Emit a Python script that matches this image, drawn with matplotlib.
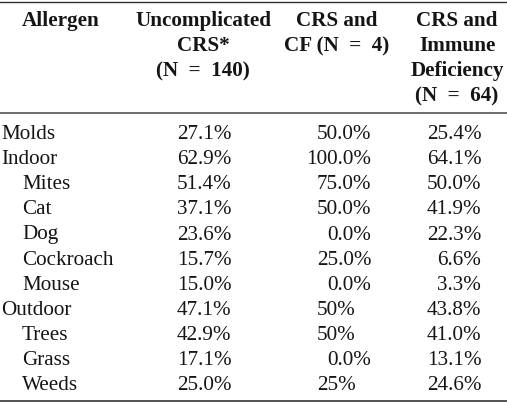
import matplotlib
matplotlib.use("Agg")
import matplotlib.pyplot as plt

allergens = ["Molds", "Indoor", "Mites", "Cat", "Dog", "Cockroach", "Mouse",
             "Outdoor", "Trees", "Grass", "Weeds"]
indented = [False, False, True, True, True, True, True, False, True, True, True]
uncomplicated = ["27.1%", "62.9%", "51.4%", "37.1%", "23.6%", "15.7%", "15.0%",
                 "47.1%", "42.9%", "17.1%", "25.0%"]
crs_cf = ["50.0%", "100.0%", "75.0%", "50.0%", "0.0%", "25.0%", "0.0%",
          "50%", "50%", "0.0%", "25%"]
crs_immune = ["25.4%", "64.1%", "50.0%", "41.9%", "22.3%", "6.6%", "3.3%",
              "43.8%", "41.0%", "13.1%", "24.6%"]
headers = [
    ["Allergen"],
    ["Uncomplicated", "CRS*", "(N = 140)"],
    ["CRS and", "CF (N = 4)"],
    ["CRS and", "Immune", "Deficiency", "(N = 64)"],
]

W, H = 507, 403
fig = plt.figure(figsize=(W / 100, H / 100), dpi=100)
ax = fig.add_axes([0, 0, 1, 1])
ax.set_xlim(0, W)
ax.set_ylim(H, 0)
ax.axis("off")

FONT = "Liberation Serif"
FS = 15.2
TC = "#151515"

# rules
ax.plot([0, W], [1.5, 1.5], color="#333333", lw=1.0)
ax.plot([0, W], [113.3, 113.3], color="#555555", lw=1.2)
ax.plot([0, W], [401, 401], color="#333333", lw=1.2)

# header
head_x = [61, 203, 337, 457]
for hx, lines in zip(head_x, headers):
    for i, line in enumerate(lines):
        ax.text(hx, 26 + 25 * i, line.replace(" = ", "  =  "), ha="center",
                va="baseline", fontsize=FS, fontweight="bold", family=FONT,
                color=TC)

# body
dec_x = [198, 338, 448]
row0, step = 139.3, 25.05
renderer = fig.canvas.get_renderer()
for r, name in enumerate(allergens):
    y = row0 + step * r
    ax.text(22 if indented[r] else 1, y, name, ha="left", va="baseline",
            fontsize=FS, family=FONT, color=TC)
    for cx, col in zip(dec_x, [uncomplicated, crs_cf, crs_immune]):
        v = col[r]
        ip = v.split(".")[0].rstrip("%")
        probe = ax.text(cx, y, ip, ha="right", va="baseline", fontsize=FS,
                        family=FONT, alpha=0)
        bb = probe.get_window_extent(renderer=renderer)
        x0 = ax.transData.inverted().transform((bb.x0, bb.y0))[0]
        probe.remove()
        ax.text(x0, y, v, ha="left", va="baseline", fontsize=FS,
                family=FONT, color=TC)

fig.savefig("out.png", dpi=100)
